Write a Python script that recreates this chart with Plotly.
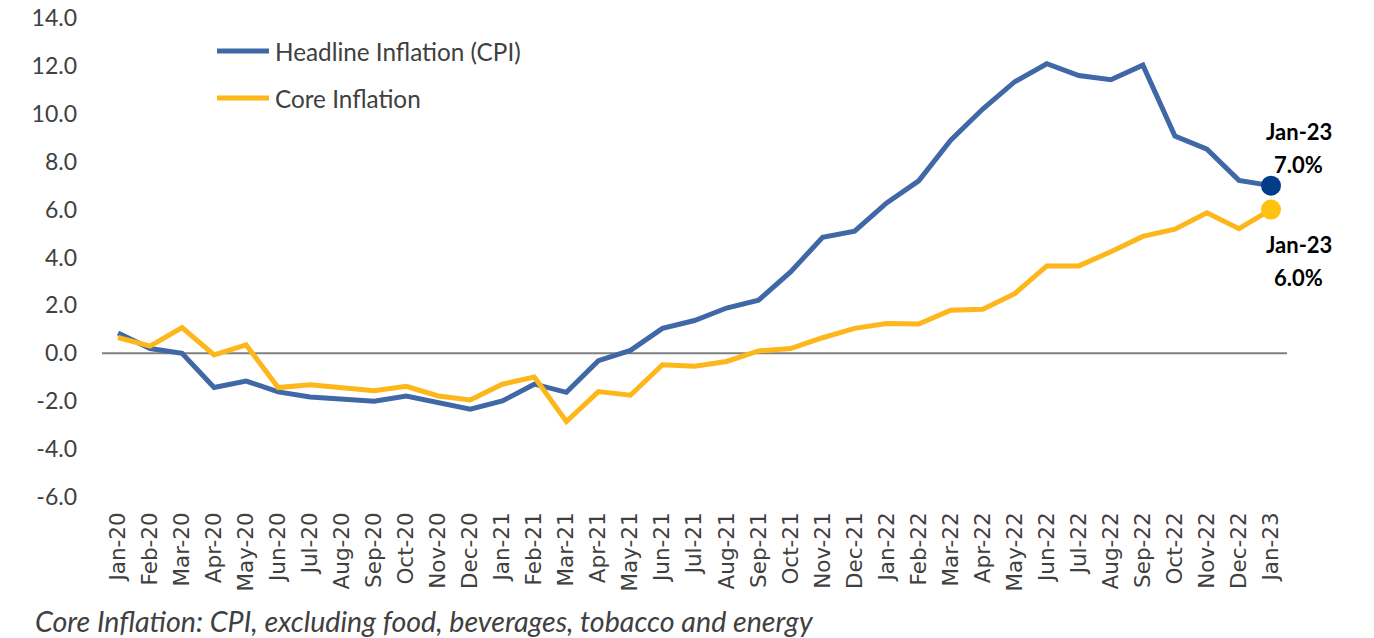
import plotly.graph_objects as go

# Monthly year-on-year inflation rates (%)
months = [
    "Jan-20", "Feb-20", "Mar-20", "Apr-20", "May-20", "Jun-20", "Jul-20", "Aug-20",
    "Sep-20", "Oct-20", "Nov-20", "Dec-20", "Jan-21", "Feb-21", "Mar-21", "Apr-21",
    "May-21", "Jun-21", "Jul-21", "Aug-21", "Sep-21", "Oct-21", "Nov-21", "Dec-21",
    "Jan-22", "Feb-22", "Mar-22", "Apr-22", "May-22", "Jun-22", "Jul-22", "Aug-22",
    "Sep-22", "Oct-22", "Nov-22", "Dec-22", "Jan-23",
]
headline = [
    0.85, 0.2, 0.0, -1.43, -1.16, -1.61, -1.82, -1.92, -2.0, -1.78, -2.08, -2.33,
    -1.99, -1.29, -1.63, -0.31, 0.12, 1.04, 1.37, 1.89, 2.22, 3.4, 4.84, 5.1,
    6.28, 7.2, 8.9, 10.2, 11.34, 12.09, 11.6, 11.42, 12.03, 9.07, 8.52, 7.22, 7.0,
]
core = [
    0.66, 0.3, 1.07, -0.07, 0.35, -1.43, -1.31, -1.46, -1.56, -1.38, -1.78, -1.95,
    -1.29, -0.99, -2.85, -1.6, -1.75, -0.48, -0.54, -0.34, 0.1, 0.2, 0.65, 1.04,
    1.24, 1.22, 1.8, 1.84, 2.49, 3.65, 3.65, 4.24, 4.88, 5.18, 5.87, 5.2, 6.0,
]
y_ticks = [-6, -4, -2, 0, 2, 4, 6, 8, 10, 12, 14]
y_tick_labels = [f"{v:.1f}" for v in y_ticks]  # plain hyphen for negatives
series_names = ["Headline Inflation (CPI)", "Core Inflation"]
footnote = "Core Inflation: CPI, excluding food, beverages, tobacco and energy"

BLUE = "#4067A6"
BLUE_DOT = "#033D89"
YELLOW = "#FDB71A"
YELLOW_DOT = "#FFC20E"
FONT = "Lato"
TEXT = "#404040"

fig = go.Figure()

fig.add_trace(go.Scatter(
    x=months, y=headline, mode="lines", name=series_names[0],
    line=dict(color=BLUE, width=5), showlegend=False,
))
fig.add_trace(go.Scatter(
    x=months, y=core, mode="lines", name=series_names[1],
    line=dict(color=YELLOW, width=5), showlegend=False,
))

# Highlight the latest observation of each series
fig.add_trace(go.Scatter(
    x=[months[-1]], y=[headline[-1]], mode="markers",
    marker=dict(color=BLUE_DOT, size=20), showlegend=False, hoverinfo="skip",
))
fig.add_trace(go.Scatter(
    x=[months[-1]], y=[core[-1]], mode="markers",
    marker=dict(color=YELLOW_DOT, size=20), showlegend=False, hoverinfo="skip",
))

# Value labels beside the latest points (one annotation per text line)
label_font = dict(family=FONT, size=22, color="black")
for value, shifts in [(headline[-1], (54, 21)), (core[-1], (-35, -68))]:
    for text, dy in zip([months[-1], f"{value:.1f}%"], shifts):
        fig.add_annotation(
            x=months[-1], y=value, xref="x", yref="y",
            text=f"<b>{text}</b>", showarrow=False,
            xanchor="center", yanchor="middle", xshift=28, yshift=dy,
            font=label_font,
        )

# Zero reference line
fig.add_shape(
    type="line", xref="paper", yref="y", x0=0, x1=1, y0=0, y1=0,
    line=dict(color="#808080", width=2), layer="below",
)

# Legend drawn as line swatches with labels
W, H = 1374, 638
ML, MR, MT, MB = 102, 87, 18, 141
pw, ph = W - ML - MR, H - MT - MB


def px(x):
    return (x - ML) / pw


def py(y):
    return 1 - (y - MT) / ph


for name, color, ypix in [(series_names[0], BLUE, 51), (series_names[1], YELLOW, 98)]:
    fig.add_shape(
        type="line", xref="paper", yref="paper",
        x0=px(217), x1=px(269), y0=py(ypix), y1=py(ypix),
        line=dict(color=color, width=5),
    )
    fig.add_annotation(
        xref="paper", yref="paper", x=px(273), y=py(ypix), text=name,
        showarrow=False, xanchor="left", yanchor="middle",
        font=dict(family=FONT, size=24.3, color=TEXT),
    )

fig.add_annotation(
    xref="paper", yref="paper", x=px(33), y=py(621), text=f"<i>{footnote}</i>",
    showarrow=False, xanchor="left", yanchor="middle",
    font=dict(family=FONT, size=28.6, color=TEXT),
)

fig.update_layout(
    width=W, height=H,
    margin=dict(l=ML, r=MR, t=MT, b=MB, autoexpand=False),
    paper_bgcolor="white", plot_bgcolor="white",
    showlegend=False,
    font=dict(family=FONT, color=TEXT),
)
fig.update_xaxes(
    type="category", range=[-0.5, len(months) - 0.5],
    tickangle=-90, tickfont=dict(family="DejaVu Sans", size=21.5, color=TEXT),
    showgrid=False, showline=False, zeroline=False, ticks="",
    ticklabelstandoff=10, automargin=False,
)
fig.update_yaxes(
    range=[-6, 14], tickvals=y_ticks, ticktext=y_tick_labels,
    tickfont=dict(family=FONT, size=23, color=TEXT),
    showgrid=False, showline=False, zeroline=False, ticks="",
    ticklabelstandoff=24, automargin=False,
)

fig.write_html("out.html")
